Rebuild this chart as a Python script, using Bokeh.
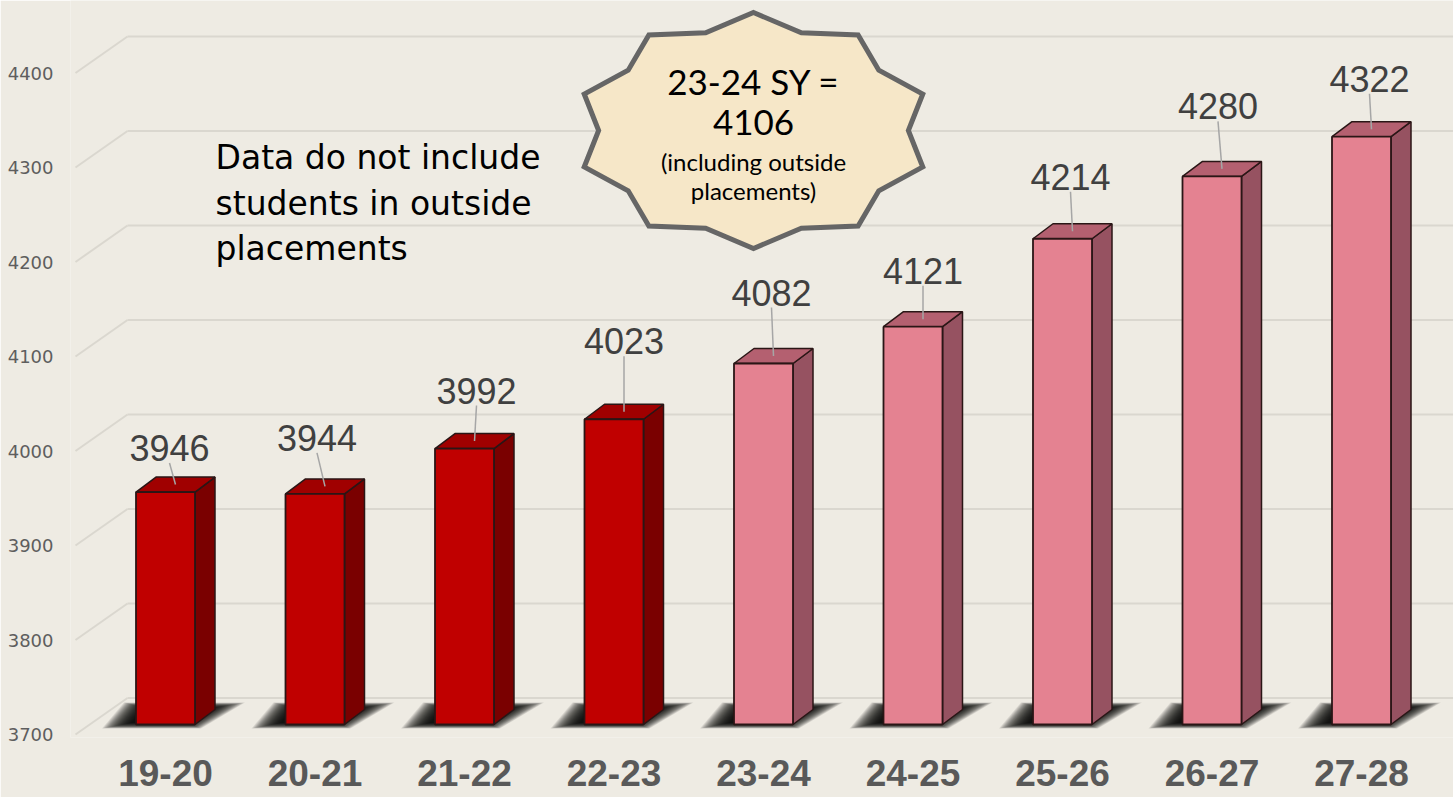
import math
from bokeh.plotting import figure
from bokeh.models import Range1d, LinearAxis, FixedTicker
from bokeh.core.properties import value
from bokeh.embed import file_html
from bokeh.resources import INLINE

# ---------------- data ----------------
categories = ["19-20", "20-21", "21-22", "22-23", "23-24", "24-25", "25-26", "26-27", "27-28"]
enrollment = [3946, 3944, 3992, 4023, 4082, 4121, 4214, 4280, 4322]
series_kind = ["actual", "actual", "actual", "actual",
               "projected", "projected", "projected", "projected", "projected"]
y_ticks = [3700, 3800, 3900, 4000, 4100, 4200, 4300, 4400]
note_lines = ["Data do not include", "students in outside", "placements"]
burst_title = ["23-24 SY =", "4106"]
burst_sub = ["(including outside", "placements)"]

# ---------------- layout (reference pixels) ----------------
X0_PX, STEP_PX = 165.0, 149.5          # centre of first bar, bar spacing
BASE_PX, PX_PER_UNIT = 724.0, 0.945    # baseline pixel row, px per value unit
BASE_VALUE = y_ticks[0]
BOTTOM_BORDER = 60
FRAME_L, FRAME_R, FRAME_T, FRAME_B = 70, 1453, 0, 797 - BOTTOM_BORDER
BAR_W_PX, DEPTH_X_PX, DEPTH_Y_PX = 59, 20, 15
LABEL_LIFT_PX = [44, 56, 58, 78, 71, 56, 62, 70, 58]
LABEL_DX_PX = [4, 2, 12, 10, 8, 10, 8, 6, 8]

def xd(px):
    return (px - X0_PX) / STEP_PX

def yd(py):
    return BASE_VALUE + (BASE_PX - py) / PX_PER_UNIT

def dxu(px):
    return px / STEP_PX

def dyu(px):
    return px / PX_PER_UNIT

BG = "#EEEBE3"
GRID = "#DAD7CF"
COLORS = {
    "actual": dict(front="#C00000", top="#A00000", side="#7A0000"),
    "projected": dict(front="#E48291", top="#B46070", side="#965261"),
}
EDGE = "#2A1616"

p = figure(width=1453, height=797,
           x_range=Range1d(xd(FRAME_L), xd(FRAME_R)),
           y_range=Range1d(yd(FRAME_B), yd(FRAME_T)),
           x_axis_location=None, y_axis_location=None,
           toolbar_location=None, output_backend="svg",
           min_border_left=FRAME_L, min_border_right=0, min_border_top=0,
           min_border_bottom=BOTTOM_BORDER,
           background_fill_color=BG, border_fill_color=BG, outline_line_color=None)
p.grid.visible = False

# ---------------- axes ----------------
front_shift = dyu(10)
p.extra_y_ranges = {"front": Range1d(yd(FRAME_B) + front_shift, yd(FRAME_T) + front_shift)}
yaxis = LinearAxis(y_range_name="front", ticker=FixedTicker(ticks=y_ticks),
                   axis_line_color=None, major_tick_line_color=None, minor_tick_line_color=None,
                   major_label_standoff=11, major_label_text_font="DejaVu Sans",
                   major_label_text_font_size="18px", major_label_text_color="#5E5E5E")
p.add_layout(yaxis, "left")

xaxis = LinearAxis(ticker=FixedTicker(ticks=list(range(len(categories)))),
                   major_label_overrides={i: c for i, c in enumerate(categories)},
                   axis_line_color=None, major_tick_line_color=None, minor_tick_line_color=None,
                   major_label_standoff=16, major_label_text_font="Liberation Sans",
                   major_label_text_font_style="bold",
                   major_label_text_font_size="37px", major_label_text_color="#595959")
p.add_layout(xaxis, "below")

# ---------------- 3D gridlines (back wall + floor diagonals) ----------------
back_shift = dyu(26.5)
p.segment(x0=[xd(127)] * len(y_ticks), y0=[t + back_shift for t in y_ticks],
          x1=[xd(FRAME_R)] * len(y_ticks), y1=[t + back_shift for t in y_ticks],
          line_color=GRID, line_width=2)
p.segment(x0=[xd(75)] * len(y_ticks), y0=[t - front_shift for t in y_ticks],
          x1=[xd(127)] * len(y_ticks), y1=[t + back_shift for t in y_ticks],
          line_color=GRID, line_width=2)

# ---------------- soft shadows ----------------
half_w = dxu(BAR_W_PX) / 2
ddx, ddy = dxu(DEPTH_X_PX), dyu(DEPTH_Y_PX)
shadow_base = [(-34, 4), (BAR_W_PX + 6, 4), (BAR_W_PX + DEPTH_X_PX + 30, -22), (-12, -22)]
cx = sum(pt[0] for pt in shadow_base) / 4
cy = sum(pt[1] for pt in shadow_base) / 4
n_layers = 26
for j in range(n_layers):
    f = 1.0 - 0.018 * j
    sxs, sys_ = [], []
    for i, v in enumerate(enrollment):
        left = i - half_w
        sxs.append([left + dxu(cx + (px - cx) * f) for px, py in shadow_base])
        sys_.append([BASE_VALUE - dyu(cy + (py - cy) * f) for px, py in shadow_base])
    p.patches(xs=sxs, ys=sys_, fill_color="black", fill_alpha=0.085, line_color=None)

# ---------------- 3D bars ----------------
front_l, front_r, front_b, front_t, front_c = [], [], [], [], []
side_xs, side_ys, side_c, top_xs, top_ys, top_c = [], [], [], [], [], []
for i, (v, k) in enumerate(zip(enrollment, series_kind)):
    l, r = i - half_w, i + half_w
    front_l.append(l); front_r.append(r); front_b.append(BASE_VALUE); front_t.append(v)
    front_c.append(COLORS[k]["front"])
    side_xs.append([r, r + ddx, r + ddx, r])
    side_ys.append([BASE_VALUE, BASE_VALUE + ddy, v + ddy, v])
    side_c.append(COLORS[k]["side"])
    top_xs.append([l, l + ddx, r + ddx, r])
    top_ys.append([v, v + ddy, v + ddy, v])
    top_c.append(COLORS[k]["top"])

p.patches(xs=side_xs, ys=side_ys, fill_color=side_c, line_color=EDGE, line_width=1.5)
p.patches(xs=top_xs, ys=top_ys, fill_color=top_c, line_color=EDGE, line_width=1.5)
p.quad(left=front_l, right=front_r, bottom=front_b, top=front_t,
       fill_color=front_c, line_color=EDGE, line_width=1.8)

# ---------------- value labels + leader lines ----------------
lab_x = [i + dxu(dx) for i, dx in enumerate(LABEL_DX_PX)]
lab_y = [v + dyu(lift) for v, lift in zip(enrollment, LABEL_LIFT_PX)]
p.segment(x0=[i + ddx / 2 for i in range(len(enrollment))],
          y0=[v + ddy / 2 for v in enrollment],
          x1=lab_x, y1=[v + dyu(lift - 15) for v, lift in zip(enrollment, LABEL_LIFT_PX)],
          line_color="#A6A6A6", line_width=1.5)
p.text(x=lab_x, y=lab_y, text=[str(v) for v in enrollment],
       text_font=value("Liberation Sans"), text_font_size="36px", text_color="#404040",
       text_align="center", text_baseline="middle")

# ---------------- note text ----------------
p.text(x=[xd(215)] * 3, y=[yd(157), yd(203), yd(248)], text=note_lines,
       text_font=value("DejaVu Sans"), text_font_size="33px", text_color="#000000",
       text_align="left", text_baseline="alphabetic")

# ---------------- starburst callout ----------------
scx, scy = xd(753), yd(130)
rx, ry = dxu(178), dyu(118)
star_x, star_y = [], []
for k in range(20):
    ang = math.radians(90 - k * 18)
    rr = 1.0 if k % 2 == 0 else 0.87
    star_x.append(scx + rx * rr * math.cos(ang))
    star_y.append(scy + ry * rr * math.sin(ang))
p.patch(x=star_x, y=star_y, fill_color="#F6E7C8", line_color="#666666",
        line_width=5, line_join="miter")
p.text(x=[scx, scx], y=[yd(80), yd(122)], text=burst_title,
       text_font=value("Lato"), text_font_size="35px", text_color="#000000",
       text_align="center", text_baseline="middle")
p.text(x=[scx, scx], y=[yd(161), yd(190)], text=burst_sub,
       text_font=value("Lato"), text_font_size="24px", text_color="#000000",
       text_align="center", text_baseline="middle")

open("out.html", "w").write(file_html(p, INLINE))
